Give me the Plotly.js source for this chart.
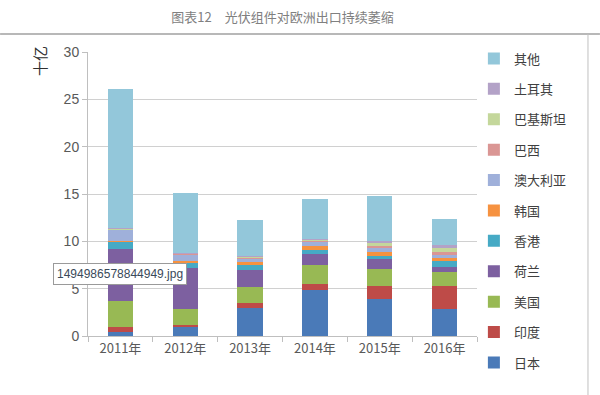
<!DOCTYPE html>
<html>
<head>
<meta charset="utf-8">
<script src="https://cdn.plot.ly/plotly-3.0.1.min.js"></script>
<style>html,body{margin:0;padding:0;background:#fff;}#chart{width:600px;height:395px;}</style>
</head>
<body>
<div id="chart"></div>
<script>
const years = ['2011年', '2012年', '2013年', '2014年', '2015年', '2016年'];
const seriesNames = ['日本', '印度', '美国', '荷兰', '香港', '韩国', '澳大利亚', '巴西', '巴基斯坦', '土耳其', '其他'];
const japan     = [0.45, 1.00, 3.00, 4.85, 3.90, 2.80];
const india     = [0.50, 0.15, 0.50, 0.60, 1.35, 2.45];
const usa       = [2.80, 1.75, 1.70, 2.05, 1.85, 1.50];
const netherl   = [5.45, 4.25, 1.75, 1.15, 1.00, 0.55];
const hongkong  = [0.75, 0.55, 0.60, 0.40, 0.40, 0.60];
const korea     = [0.05, 0.25, 0.30, 0.45, 0.35, 0.30];
const australia = [1.20, 0.65, 0.25, 0.40, 0.40, 0.40];
const brazil    = [0.05, 0.05, 0.10, 0.10, 0.25, 0.30];
const pakistan  = [0.05, 0.05, 0.10, 0.15, 0.30, 0.40];
const turkey    = [0.10, 0.05, 0.10, 0.10, 0.20, 0.30];
const others    = [14.65, 6.35, 3.85, 4.20, 4.80, 2.75];
const yTicks = [0, 5, 10, 15, 20, 25, 30];

const values = [japan, india, usa, netherl, hongkong, korea, australia, brazil, pakistan, turkey, others];
const colors = ['#4a7ab8', '#be4b48', '#98b954', '#7d60a0', '#46aac5', '#f69240', '#9fb0da', '#da9694', '#c4d79b', '#b3a2c7', '#93c7da'];

const traces = seriesNames.map((n, i) => ({
  type: 'bar', name: n, x: years, y: values[i],
  marker: {color: colors[i], line: {width: 0}},
  legendgroup: 'g' + i,
  legendrank: 100 - i,
  hoverinfo: 'x+y+name'
}));

const cjk = '"Noto Sans CJK SC", "Noto Sans", sans-serif';
const layout = {
  width: 600, height: 395,
  margin: {l: 88, r: 123, t: 52, b: 59},
  paper_bgcolor: '#fff', plot_bgcolor: '#fff',
  barmode: 'stack', bargap: 0.61,
  font: {family: cjk, color: '#595959', size: 13},
  title: {text: '图表12　光伏组件对欧洲出口持续萎缩', x: 0.5, xref: 'paper', xanchor: 'center',
          y: 0.955, yref: 'container', yanchor: 'middle',
          font: {family: cjk, size: 13, color: '#808080'}},
  xaxis: {type: 'category', tickson: 'boundaries', ticks: 'outside', ticklen: 5, tickcolor: '#bfbfbf',
          showline: true, linecolor: '#bfbfbf', linewidth: 1, showgrid: false,
          tickfont: {family: cjk, size: 13, color: '#595959'}},
  yaxis: {range: [0, 30], tickvals: yTicks, ticks: 'outside', ticklen: 5, tickcolor: '#bfbfbf',
          showline: true, linecolor: '#bfbfbf', linewidth: 1,
          showgrid: true, gridcolor: '#d0d0d0', gridwidth: 1, zeroline: false,
          tickfont: {family: '"Liberation Sans", sans-serif', size: 14, color: '#595959'}},
  legend: {traceorder: 'grouped', x: 0.992, xanchor: 'left', y: 1.03, yanchor: 'top',
           tracegroupgap: 10.5, font: {family: cjk, size: 13, color: '#404040'},
           itemwidth: 30, bgcolor: 'rgba(0,0,0,0)', maxheight: 390},
  annotations: [
    {text: '十亿', xref: 'paper', yref: 'paper', x: -0.126, y: 0.968, textangle: -90,
     showarrow: false, font: {family: cjk, size: 15, color: '#303030'}, xanchor: 'center', yanchor: 'middle'},
    {text: '1494986578844949.jpg', xref: 'paper', yref: 'paper', x: 0.0835, y: 0.218,
     showarrow: false, font: {family: '"Liberation Sans", sans-serif', size: 12, color: '#3a4a5a'},
     bgcolor: '#ffffff', bordercolor: '#9a9a9a', borderwidth: 1, borderpad: 3,
     xanchor: 'center', yanchor: 'middle'}
  ],
  shapes: [
    {type: 'line', xref: 'paper', yref: 'paper', x0: -0.226, x1: 1.316, y0: 1.0634, y1: 1.0634,
     line: {color: '#a0a0a0', width: 1.5}},
    {type: 'line', xref: 'paper', yref: 'paper', x0: 1.2853, x1: 1.2853, y0: 1.0634, y1: -0.21,
     line: {color: '#c0c0c0', width: 1}}
  ]
};

Plotly.newPlot('chart', traces, layout, {displayModeBar: false, staticPlot: true});
</script>
</body>
</html>
